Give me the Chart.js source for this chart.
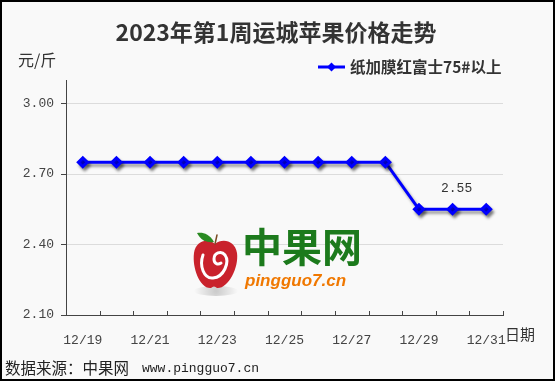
<!DOCTYPE html>
<html><head><meta charset="utf-8">
<script src="https://cdn.jsdelivr.net/npm/chart.js@4.4.0/dist/chart.umd.min.js"></script>
<style>html,body{margin:0;padding:0;background:#fff}#wrap{width:555px;height:381px}</style>
</head><body><div id="wrap"><canvas id="c" width="555" height="381"></canvas></div>
<script>
const titleText = '2023年第1周运城苹果价格走势';
const seriesName = '纸加膜红富士75#以上';
const categories = ['12/19','12/20','12/21','12/22','12/23','12/24','12/25','12/26','12/27','12/28','12/29','12/30','12/31'];
const prices = [2.75,2.75,2.75,2.75,2.75,2.75,2.75,2.75,2.75,2.75,2.55,2.55,2.55];
const yTicks = [2.10, 2.40, 2.70, 3.00];
const labelIndex = 11;

const CJK = '"Noto Sans CJK SC", "Noto Sans", sans-serif';
const MONO = '"Liberation Mono", "DejaVu Sans Mono", monospace';

const decor = {
  id: 'decor',
  beforeDraw(chart) {
    const ctx = chart.ctx;
    ctx.save();
    ctx.fillStyle = '#f9f9f9';
    ctx.fillRect(0, 0, 555, 381);
    ctx.restore();
  },
  beforeDatasetsDraw(chart) {
    const ctx = chart.ctx;
    ctx.save();
    const g = ctx.createRadialGradient(216, 291, 1, 216, 291, 22);
    g.addColorStop(0, 'rgba(0,0,0,0.18)'); g.addColorStop(1, 'rgba(0,0,0,0)');
    ctx.fillStyle = g; ctx.beginPath(); ctx.ellipse(216, 291, 22, 5, 0, 0, Math.PI*2); ctx.fill();
    ctx.fillStyle = '#c9222c';
    ctx.beginPath();
    ctx.moveTo(215, 244);
    ctx.bezierCurveTo(222, 238, 235, 240, 237, 253);
    ctx.bezierCurveTo(239, 268, 228, 289, 217, 288);
    ctx.bezierCurveTo(215, 286, 213, 286, 211, 288);
    ctx.bezierCurveTo(200, 289, 192, 268, 194, 253);
    ctx.bezierCurveTo(196, 240, 208, 238, 215, 244);
    ctx.fill();
    ctx.strokeStyle = '#ffffff'; ctx.lineWidth = 3; ctx.lineCap = 'round';
    ctx.beginPath();
    ctx.moveTo(203, 255);
    ctx.bezierCurveTo(199, 266, 204, 279, 213, 278);
    ctx.bezierCurveTo(224, 277, 230, 262, 225, 255);
    ctx.bezierCurveTo(221, 250, 214, 253, 214, 259);
    ctx.bezierCurveTo(214, 264, 218, 265, 221, 263);
    ctx.stroke();
    ctx.strokeStyle = '#7a4a22'; ctx.lineWidth = 1.5;
    ctx.beginPath(); ctx.moveTo(215, 244); ctx.lineTo(217, 235); ctx.stroke();
    ctx.fillStyle = '#2a8a22';
    ctx.beginPath();
    ctx.moveTo(214, 242);
    ctx.bezierCurveTo(209, 233, 202, 232, 197, 233);
    ctx.bezierCurveTo(201, 241, 208, 243, 214, 242);
    ctx.fill();
    ctx.fillStyle = '#1c7a1c';
    ctx.font = 'bold 40px ' + CJK;
    ctx.textBaseline = 'middle'; ctx.textAlign = 'left';
    ctx.fillText('中果网', 242, 247);
    ctx.fillStyle = '#f07800';
    ctx.font = 'italic bold 17px "Liberation Sans", Arial, sans-serif';
    ctx.fillText('pingguo7.cn', 245, 281);
    ctx.restore();
  },
  afterDraw(chart) {
    const ctx = chart.ctx;
    const ca = chart.chartArea;
    const xs = chart.scales.x;
    ctx.save();
    ctx.fillStyle = '#333';
    ctx.font = 'bold 23px ' + CJK;
    ctx.textAlign = 'center'; ctx.textBaseline = 'middle';
    ctx.fillText(titleText, 276, 32);
    ctx.font = '16px ' + CJK;
    ctx.fillStyle = '#333';
    ctx.textAlign = 'left';
    ctx.fillText('元/斤', 18, 60);
    ctx.strokeStyle = '#0000ff'; ctx.lineWidth = 3;
    ctx.beginPath(); ctx.moveTo(318, 67); ctx.lineTo(345, 67); ctx.stroke();
    ctx.fillStyle = '#0000ff';
    ctx.beginPath(); ctx.moveTo(331.5, 62.5); ctx.lineTo(336, 67); ctx.lineTo(331.5, 71.5); ctx.lineTo(327, 67); ctx.closePath(); ctx.fill();
    ctx.fillStyle = '#333';
    ctx.font = 'bold 15.5px ' + CJK;
    ctx.fillText(seriesName, 350, 67);
    ctx.font = '15px ' + CJK;
    ctx.fillText('日期', 505, 334);
    ctx.fillStyle = '#222';
    ctx.font = '15.5px ' + CJK;
    ctx.fillText('数据来源：中果网', 5, 368);
    ctx.font = '13px ' + MONO;
    ctx.fillText('www.pingguo7.cn', 142, 369);
    ctx.strokeStyle = '#444'; ctx.lineWidth = 1;
    const half = (xs.getPixelForValue(1) - xs.getPixelForValue(0)) / 2;
    for (let i = 0; i < categories.length; i++) {
      const x = Math.round(xs.getPixelForValue(i) + half) + 0.5;
      ctx.beginPath(); ctx.moveTo(x, ca.bottom); ctx.lineTo(x, ca.bottom - 4); ctx.stroke();
    }
    const meta = chart.getDatasetMeta(0);
    const p = meta.data[labelIndex];
    ctx.font = '13px ' + MONO;
    ctx.fillStyle = '#333';
    ctx.textAlign = 'center';
    ctx.fillText(prices[labelIndex].toFixed(2), p.x + 4, p.y - 21);
    ctx.strokeStyle = '#000'; ctx.lineWidth = 2;
    ctx.strokeRect(1, 1, 553, 379);
    ctx.restore();
  }
};

const shadow = {
  id: 'shadow',
  beforeDatasetDraw(chart) {
    const ctx = chart.ctx;
    ctx.save();
    ctx.shadowColor = 'rgba(0,0,0,0.4)';
    ctx.shadowOffsetX = 2; ctx.shadowOffsetY = 3; ctx.shadowBlur = 3;
  },
  afterDatasetDraw(chart) { chart.ctx.restore(); }
};

new Chart(document.getElementById('c'), {
  type: 'line',
  data: {
    labels: categories,
    datasets: [{
      label: seriesName,
      data: prices,
      borderColor: '#0000ff',
      backgroundColor: '#0000ff',
      borderWidth: 3,
      pointStyle: 'rectRot',
      pointRadius: 4.5,
      pointHoverRadius: 4.5,
      pointBackgroundColor: '#0000ff',
      pointBorderColor: '#0000ff',
      tension: 0
    }]
  },
  options: {
    responsive: false,
    animation: false,
    events: [],
    layout: { padding: { left: 0, top: 80, right: 52, bottom: 0 } },
    plugins: { legend: { display: false }, title: { display: false }, tooltip: { enabled: false } },
    scales: {
      x: {
        offset: true,
        grid: { display: false, offset: true },
        border: { display: true, color: '#444', width: 1 },
        ticks: {
          autoSkip: false, maxRotation: 0, padding: 10,
          color: '#444', font: { size: 13, family: MONO },
          callback: (v, i) => (i % 2 === 0 ? categories[i] : '')
        },
        afterFit: s => { s.height = 66; }
      },
      y: {
        min: 2.1, max: 3.1,
        afterBuildTicks: s => { s.ticks = yTicks.map(v => ({ value: v })); },
        grid: { color: '#dcdcdc', tickLength: 5, tickColor: '#444', drawTicks: true },
        border: { display: true, color: '#444', width: 1 },
        ticks: {
          padding: 7, color: '#444', font: { size: 13, family: MONO },
          callback: v => Number(v).toFixed(2)
        },
        afterFit: s => { s.width = 66; }
      }
    }
  },
  plugins: [decor, shadow]
});
</script></body></html>
